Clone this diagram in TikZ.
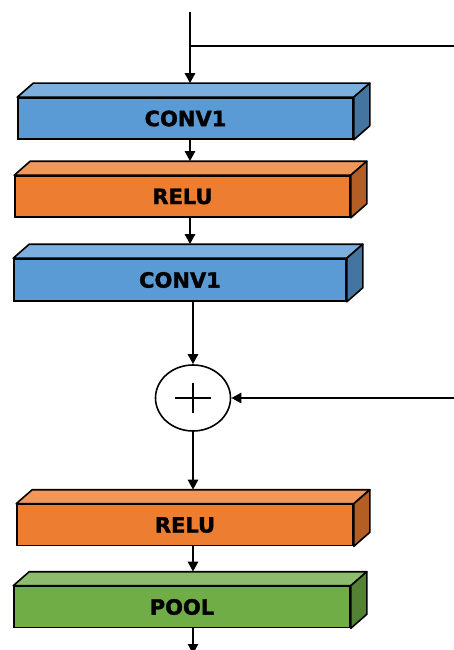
\documentclass[tikz,border=0pt]{standalone}
\usepackage{fontspec}
\newfontfamily\layerfont[BoldFeatures={FakeBold=1.5}]{DejaVu Sans}
\usetikzlibrary{arrows.meta,calc,positioning,shapes.geometric}
\definecolor{convblue}{RGB}{91,155,213}
\definecolor{reluorange}{RGB}{237,125,49}
\definecolor{poolgreen}{RGB}{112,173,71}

\begin{document}
\begin{tikzpicture}[x=1pt,y=-1pt]
\tikzstyle{layer}=[draw=black,line width=1.6pt,inner sep=0pt,
minimum width=335pt,minimum height=41pt,
font=\layerfont\bfseries\fontsize{21}{21}\selectfont]
\tikzstyle{flow}=[line width=2.7pt,-{Triangle[length=10pt,width=10pt]}]
\tikzstyle{adder}=[ellipse,draw=black,line width=1.6pt,fill=white,
minimum width=75pt,minimum height=66pt,inner sep=0pt,
path picture={
\draw[line width=1.3pt] ([xshift=-18pt]path picture bounding box.center)
 -- ([xshift=18pt]path picture bounding box.center);
\draw[line width=1.3pt] ([yshift=-15pt]path picture bounding box.center)
 -- ([yshift=15pt]path picture bounding box.center);}]

\useasboundingbox (0,0) rectangle (454,650);

% front faces of the layers
\node[layer,fill=convblue] at (185.5,118.5) (b1) {CONV1};
\node[layer,fill=reluorange] at (182.5,196.5) (b2) {RELU};
\node[layer,fill=convblue,minimum width=332pt,minimum height=42pt] at (180,280) (b3) {CONV1};
\node[adder] at (193,398) (add) {};
\node[layer,fill=reluorange,minimum width=336pt] at (185,525) (b4) {RELU};
\node[layer,fill=poolgreen,minimum width=336pt] at (182,607) (b5) {POOL};

% top and side faces, plus the back edge the arrows point at
\foreach \b/\c in {b1/convblue,b2/reluorange,b3/convblue,b4/reluorange,b5/poolgreen}{
\filldraw[fill=\c!80!white,line width=1.6pt,line join=round] (\b.north west) -- ++(16,-14)
 -- ($(\b.north east)+(16,-14)$) -- (\b.north east) -- cycle;
\filldraw[fill=\c!75!black,line width=1.6pt,line join=round] (\b.north east) -- ++(16,-14)
 -- ($(\b.south east)+(16,-14)$) -- (\b.south east) -- cycle;
\coordinate (\b t) at ([yshift=14pt]\b.north);
}

\coordinate (in) at (190,12);
\coordinate (split) at (190,46);
\coordinate (skipout) at (454,46);
\coordinate (skipin) at (454,398);
\coordinate (out) at (193,654);

\draw[line width=2.7pt] (split) -- (skipout);
\path[flow] (in) edge (in |- b1t) ;
\path[flow] (b1.south -| in) edge (in |- b2t) ;
\path[flow] (b2.south -| in) edge (in |- b3t) ;
\path[flow] (b3.south -| add) edge (add.north) ;
\path[flow] (skipin) edge (add.east) ;
\path[flow] (add.south) edge (add |- b4t) ;
\path[flow] (b4.south -| add) edge (add |- b5t) ;
\path[flow] (b5.south -| add) edge (out) ;

\end{tikzpicture}
\end{document}
